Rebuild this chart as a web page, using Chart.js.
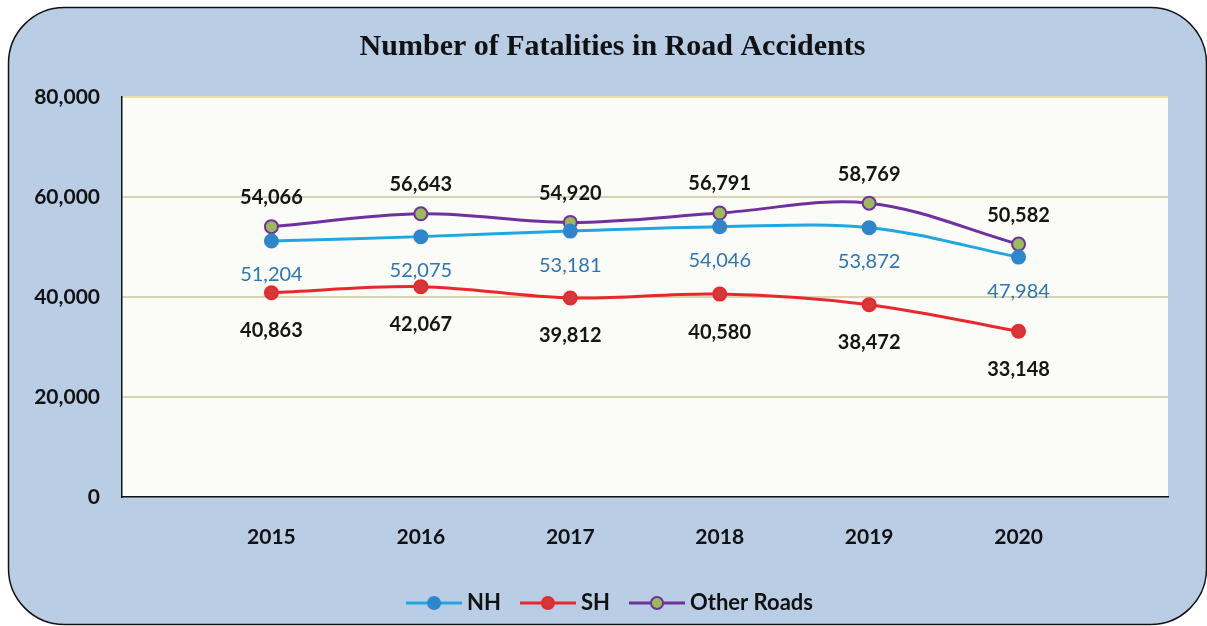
<!DOCTYPE html>
<html>
<head>
<meta charset="utf-8">
<script src="https://cdn.jsdelivr.net/npm/chart.js@4/dist/chart.umd.min.js"></script>
<style>
html, body { margin: 0; padding: 0; background: #fff; }
#wrap { width: 1207px; height: 626px; }
</style>
</head>
<body>
<div id="wrap"><canvas id="roadChart"></canvas></div>
<script>
const years = [2015, 2016, 2017, 2018, 2019, 2020];
const nhDeaths = [51204, 52075, 53181, 54046, 53872, 47984];
const shDeaths = [40863, 42067, 39812, 40580, 38472, 33148];
const otherDeaths = [54066, 56643, 54920, 56791, 58769, 50582];
const yTicks = [0, 20000, 40000, 60000, 80000];

const FONT = 'Lato, "Open Sans", sans-serif';

function legendIcon(lineColor, fill, border) {
    const c = document.createElement('canvas');
    c.width = 56;
    c.height = 16;
    const g = c.getContext('2d');
    g.strokeStyle = lineColor;
    g.lineWidth = 3;
    g.beginPath();
    g.moveTo(0, 8);
    g.lineTo(56, 8);
    g.stroke();
    g.beginPath();
    g.arc(28, 8, 6, 0, Math.PI * 2);
    g.fillStyle = fill;
    g.fill();
    g.lineWidth = 2;
    g.strokeStyle = border;
    g.stroke();
    return c;
}

function pts(values) {
    return years.map((y, i) => ({ x: y, y: values[i] }));
}

const series = [
    { label: 'NH', data: nhDeaths, line: '#1ea7e1', fill: '#2f86cc', border: '#2f86cc', labelColor: '#2e75b6', weight: 'normal', offset: 34 },
    { label: 'SH', data: shDeaths, line: '#e8282c', fill: '#d6373a', border: '#e8282c', labelColor: '#151515', weight: 'bold', offset: 38 },
    { label: 'Other Roads', data: otherDeaths, line: '#7030a0', fill: '#9bbb59', border: '#7030a0', labelColor: '#151515', weight: 'bold', offset: -29 }
];

// rounded blue panel + plot background
const panelPlugin = {
    id: 'panel',
    beforeDraw(chart) {
        const ctx = chart.ctx;
        const a = chart.chartArea;
        ctx.save();
        ctx.fillStyle = '#ffffff';
        ctx.fillRect(0, 0, chart.width, chart.height);
        ctx.beginPath();
        ctx.roundRect(8.5, 7.5, 1198, 617, 56);
        ctx.fillStyle = '#b9cde5';
        ctx.fill();
        ctx.lineWidth = 1.5;
        ctx.strokeStyle = '#111';
        ctx.stroke();
        ctx.fillStyle = '#fbfbf7';
        ctx.fillRect(a.left, a.top, a.right - a.left, a.bottom - a.top);
        ctx.restore();
    }
};

// value labels next to each point
const valueLabels = {
    id: 'valueLabels',
    afterDatasetsDraw(chart) {
        const ctx = chart.ctx;
        ctx.save();
        ctx.textAlign = 'center';
        ctx.textBaseline = 'middle';
        chart.data.datasets.forEach((ds, i) => {
            const s = series[i];
            ctx.font = s.weight + ' 20px ' + FONT;
            ctx.fillStyle = s.labelColor;
            chart.getDatasetMeta(i).data.forEach((p, j) => {
                ctx.fillText(s.data[j].toLocaleString('en-US'), p.x, p.y + s.offset);
            });
        });
        ctx.restore();
    }
};

const ctx = document.getElementById('roadChart').getContext('2d');
new Chart(ctx, {
    type: 'line',
    data: {
        datasets: series.map(s => ({
            label: s.label,
            data: pts(s.data),
            borderColor: s.line,
            borderWidth: 3,
            tension: 0.35,
            pointRadius: 6.5,
            pointBackgroundColor: s.fill,
            pointBorderColor: s.border,
            pointBorderWidth: 2
        }))
    },
    options: {
        responsive: true,
        maintainAspectRatio: false,
        animation: false,
        layout: { padding: { left: 18, right: 0, top: 0, bottom: 2 } },
        plugins: {
            tooltip: { enabled: false },
            title: {
                display: true,
                text: 'Number of Fatalities in Road Accidents',
                color: '#111',
                font: { family: '"Liberation Serif", "Times New Roman", serif', size: 30, weight: 'bold' },
                padding: { top: 29, bottom: 32 }
            },
            legend: {
                position: 'bottom',
                labels: {
                    usePointStyle: true,
                    pointStyleWidth: 44,
                    padding: 25,
                    color: '#111',
                    font: { family: FONT, size: 22, weight: 'bold' },
                    generateLabels: () => series.map((s, i) => ({
                        text: s.label,
                        datasetIndex: i,
                        fontColor: '#111',
                        pointStyle: legendIcon(s.line, s.fill, s.border),
                        lineWidth: 0,
                        strokeStyle: 'transparent',
                        fillStyle: 'transparent'
                    }))
                }
            }
        },
        scales: {
            x: {
                type: 'linear',
                min: 2014,
                max: 2021,
                afterBuildTicks: (scale) => { scale.ticks = years.map(v => ({ value: v })); },
                afterFit: (scale) => { scale.height = 70; },
                grid: { display: false, drawTicks: false },
                border: { display: true, color: '#111', width: 1.5 },
                ticks: {
                    padding: 28,
                    color: '#111',
                    font: { family: FONT, size: 21, weight: 'bold' },
                    callback: (v) => String(v)
                }
            },
            y: {
                min: 0,
                max: 80000,
                afterBuildTicks: (scale) => { scale.ticks = yTicks.map(v => ({ value: v })); },
                afterFit: (scale) => { scale.width = 104; },
                grid: {
                    drawTicks: false,
                    lineWidth: 2,
                    color: (c) => c.tick && c.tick.value === 80000 ? '#e9dfa8' : (c.tick && c.tick.value === 0 ? 'rgba(0,0,0,0)' : '#d9d3b6')
                },
                border: { display: true, color: '#111', width: 1.5 },
                ticks: {
                    padding: 22,
                    color: '#111',
                    font: { family: FONT, size: 21, weight: 'bold' },
                    callback: (v) => v.toLocaleString('en-US')
                }
            },
            yRight: {
                position: 'right',
                display: true,
                afterFit: (scale) => { scale.width = 39; },
                grid: { display: false, drawTicks: false },
                border: { display: false },
                ticks: { display: false }
            }
        }
    },
    plugins: [panelPlugin, valueLabels]
});
</script>
</body>
</html>
